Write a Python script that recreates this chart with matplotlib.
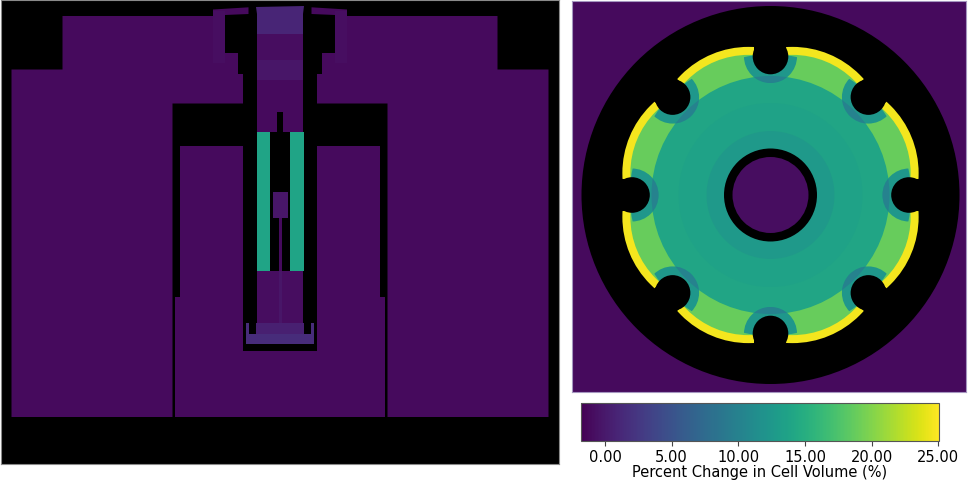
import matplotlib
matplotlib.use('Agg')
import matplotlib.pyplot as plt
import numpy as np
from matplotlib.patches import Circle, Wedge, Polygon, Rectangle
from matplotlib.cm import ScalarMappable
from matplotlib.colors import Normalize

W, H = 969, 485

vmin, vmax = -1.8, 25.05
cbar_ticks = [0, 5, 10, 15, 20, 25]
cbar_label = 'Percent Change in Cell Volume (%)'

# percent change per region, side view
base_change = -1.1
arm_change = -0.8
cap_change = 1.0
band_dark_change = -0.9
band_light_change = -0.3
fuel_change = 13.9
tray_change = 1.5
tray_top_change = 0.6

# percent change per region, top view
disc_change = 14.0
inner_ring_change = 12.6
mid_ring_change = 13.7
petal_change = 18.8
rim_change = 24.6
notch_ring_change = 12.4
notch_inner_change = 10.0
core_change = -0.9

norm = Normalize(vmin, vmax)
cmap = plt.get_cmap('viridis')


def col(v):
    return cmap(norm(v))


def rect(ax, x0, y0, x1, y1, v):
    color = 'black' if v is None else col(v)
    ax.add_patch(Rectangle((x0, y0), x1 - x0, y1 - y0, facecolor=color, edgecolor='none'))


def side_view(ax):
    ax.set_xlim(1, 559)
    ax.set_ylim(465, 1)
    ax.set_facecolor('black')
    ax.set_xticks([])
    ax.set_yticks([])
    for s in ax.spines.values():
        s.set_edgecolor('#8a8a8a')
        s.set_linewidth(0.8)

    # outer bodies, mirrored about x=280
    body = [(11.5, 70.5), (62.5, 70.5), (62.5, 17), (213, 17), (213, 10.5), (248.5, 8.3), (248.5, 15),
            (225, 16), (225, 54), (238, 54), (238, 75), (243, 75), (243, 104.5), (172.5, 104.5),
            (172.5, 418), (11.5, 418)]
    for pts in [body, [(560 - x, y) for x, y in body]]:
        ax.add_patch(Polygon(pts, closed=True, facecolor=col(base_change), edgecolor='none'))
    # lighter arm on the top
    for x0, x1 in [(213, 225), (335, 347)]:
        rect(ax, x0, 12, x1, 64, arm_change)

    # inner block with the well cut out
    inner = [(180, 147), (243, 147), (243, 352), (317, 352), (317, 147), (380, 147), (380, 298),
             (385, 298), (385, 418), (175, 418), (175, 298), (180, 298)]
    ax.add_patch(Polygon(inner, closed=True, facecolor=col(base_change), edgecolor='none'))

    # centre column
    rect(ax, 257, 35, 303, 133, base_change)
    rect(ax, 257, 12, 303, 35, cap_change)
    ax.add_patch(Polygon([(256, 8), (304, 7), (303, 15), (257, 15)], closed=True,
                         facecolor=col(cap_change), edgecolor='none'))
    rect(ax, 257, 35, 303, 61, band_dark_change)
    rect(ax, 257, 61, 303, 81, band_light_change)
    rect(ax, 277, 113, 283, 133, None)

    # fuel bars
    rect(ax, 257, 133, 270, 272, fuel_change)
    rect(ax, 290, 133, 304, 272, fuel_change)

    # rod
    rect(ax, 273, 193, 288, 219, band_light_change)
    rect(ax, 278.5, 219, 281.5, 272, base_change)

    # lower column and tray
    rect(ax, 257, 272, 303, 325, band_dark_change)
    rect(ax, 278.5, 272, 281.5, 325, band_light_change)
    rect(ax, 246, 335, 314, 345, tray_change)
    rect(ax, 256, 324, 304, 335, tray_top_change)
    rect(ax, 246, 324, 249, 335, tray_change)
    rect(ax, 311, 324, 314, 335, tray_change)


def top_view(ax):
    cx, cy = 770.5, 196
    ax.set_xlim(572, 966)
    ax.set_ylim(393, 2)
    ax.set_facecolor(col(base_change))
    ax.set_xticks([])
    ax.set_yticks([])
    for s in ax.spines.values():
        s.set_edgecolor('#a596c0')
        s.set_linewidth(0.8)

    ax.add_patch(Circle((cx, cy), 189, facecolor='black', edgecolor='none'))

    # petals bulge outward, so each one is its own circle
    petal_ang = np.deg2rad(np.arange(22.5, 360, 45))
    petal_x = cx + 57.5 * np.cos(petal_ang)
    petal_y = cy + 57.5 * np.sin(petal_ang)
    for x, y in zip(petal_x, petal_y):
        ax.add_patch(Circle((x, y), 95, facecolor=col(rim_change), edgecolor='none'))
    for x, y in zip(petal_x, petal_y):
        ax.add_patch(Circle((x, y), 87, facecolor=col(petal_change), edgecolor='none'))

    disc = Circle((cx, cy), 119, facecolor=col(disc_change), edgecolor='none')
    ax.add_patch(disc)
    ax.add_patch(Wedge((cx, cy), 92, 0, 360, width=28, facecolor=col(mid_ring_change), edgecolor='none'))

    # notches: ring stops under the yellow rim
    ring_clip = Circle((cx, cy), 140.5, transform=ax.transData)
    angles = np.deg2rad(np.arange(0, 360, 45))
    notch_x = cx + 138.5 * np.cos(angles)
    notch_y = cy + 138.5 * np.sin(angles)
    for x, y in zip(notch_x, notch_y):
        c = Circle((x, y), 26.5, facecolor=col(notch_ring_change), edgecolor='none')
        ax.add_patch(c)
        c.set_clip_path(ring_clip)
    # darker where the notch ring enters the disc
    for x, y in zip(notch_x, notch_y):
        c = Circle((x, y), 26.5, facecolor=col(notch_inner_change), edgecolor='none')
        ax.add_patch(c)
        c.set_clip_path(disc)
    # black round end plus a straight slot going outward
    for a, x, y in zip(angles, notch_x, notch_y):
        ax.add_patch(Circle((x, y), 17.8, facecolor='black', edgecolor='none'))
        ux, uy = np.cos(a), np.sin(a)
        vx, vy = -uy * 16, ux * 16
        ax.add_patch(Polygon([(x + vx, y + vy), (x - vx, y - vy),
                              (x - vx + 26 * ux, y - vy + 26 * uy), (x + vx + 26 * ux, y + vy + 26 * uy)],
                             closed=True, facecolor='black', edgecolor='none'))

    ax.add_patch(Circle((cx, cy), 64, facecolor=col(inner_ring_change), edgecolor='none'))
    ax.add_patch(Circle((cx, cy), 46.5, facecolor='black', edgecolor='none'))
    ax.add_patch(Circle((cx, cy), 38, facecolor=col(core_change), edgecolor='none'))


def px_axes(fig, x0, y0, x1, y1):
    return fig.add_axes([x0 / W, 1 - y1 / H, (x1 - x0) / W, (y1 - y0) / H])


fig = plt.figure(figsize=(W / 100, H / 100), dpi=100, facecolor='white')

side_view(px_axes(fig, 1, 1, 559, 465))
top_view(px_axes(fig, 572, 2, 966, 393))

cax = px_axes(fig, 581, 404, 939, 442)
sm = ScalarMappable(norm=norm, cmap=cmap)
cb = fig.colorbar(sm, cax=cax, orientation='horizontal', ticks=cbar_ticks, format='%.2f')
cb.set_label(cbar_label, fontsize=10.5, labelpad=0.5)
cb.ax.tick_params(labelsize=10.5, length=3.5, pad=2, color='#444444')
cb.outline.set_edgecolor('#555555')

plt.savefig('out.png', dpi=100)
